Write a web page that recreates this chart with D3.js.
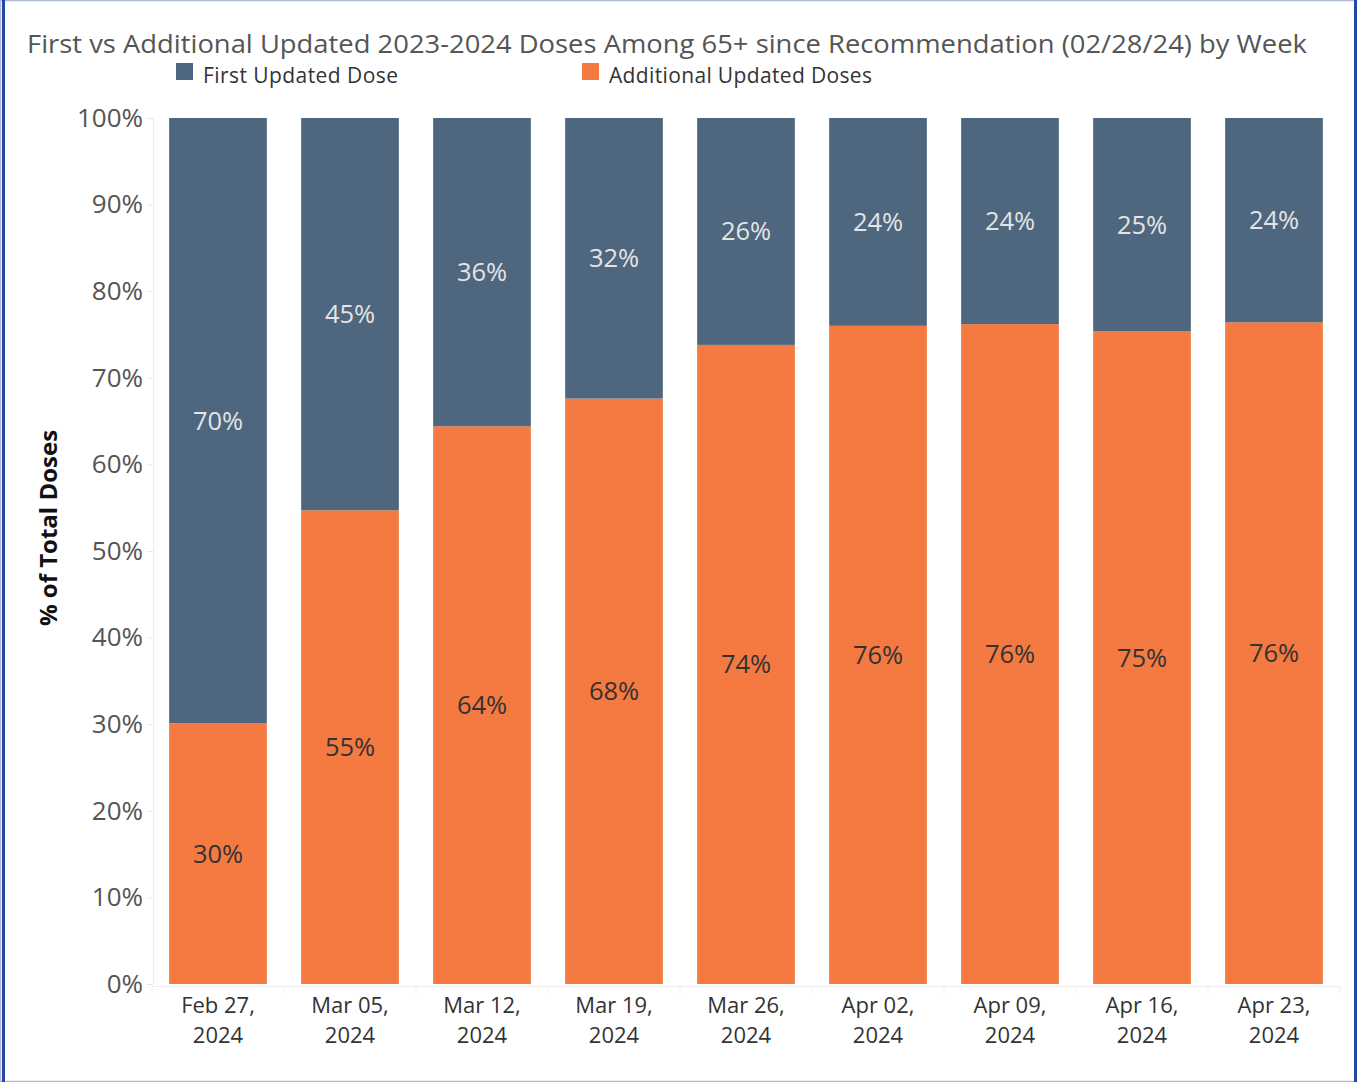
<!DOCTYPE html>
<html>
<head>
<meta charset="utf-8">
<script src="https://cdn.jsdelivr.net/npm/d3@7"></script>
<style>
  body { margin: 0; background: #fff; }
  svg { display: block; font-family: "Open Sans", sans-serif; }
</style>
</head>
<body>
<div id="chart"></div>
<script>
const weeks = ["Feb 27, 2024", "Mar 05, 2024", "Mar 12, 2024", "Mar 19, 2024", "Mar 26, 2024",
  "Apr 02, 2024", "Apr 09, 2024", "Apr 16, 2024", "Apr 23, 2024"];
// % of total doses per week
const additionalDoses = [30.1, 54.7, 64.4, 67.6, 73.8, 76.0, 76.2, 75.4, 76.4];
const firstDose = [69.9, 45.3, 35.6, 32.4, 26.2, 24.0, 23.8, 24.6, 23.6];
const yTicks = [0, 10, 20, 30, 40, 50, 60, 70, 80, 90, 100];

const w = 1357;
const h = 1082;
const blue = "#4e667e";
const orange = "#f47a42";

const svg = d3.select("#chart").append("svg").attr("width", w).attr("height", h);

// marco
svg.append("rect").attr("x", 0.5).attr("y", 0.5).attr("width", w - 1).attr("height", h - 1)
  .attr("fill", "none").attr("stroke", "#aebbd8").attr("stroke-width", 1.5);
svg.append("rect").attr("x", 2).attr("y", 0).attr("width", 3).attr("height", h).attr("fill", "#2347a3");
svg.append("rect").attr("x", w - 3).attr("y", 0).attr("width", 3).attr("height", h).attr("fill", "#2347a3");

// Escalas
const xScale = d3.scaleBand().domain(weeks).range([152, 1340]).paddingInner(0.26).paddingOuter(0.13);
const yScale = d3.scaleLinear().domain([0, 100]).range([984, 118]);

// Titulo
svg.append("text").attr("x", 27).attr("y", 53).attr("font-size", 25.5).attr("fill", "#555")
  .attr("textLength", 1280).attr("lengthAdjust", "spacingAndGlyphs")
  .text("First vs Additional Updated 2023-2024 Doses Among 65+ since Recommendation (02/28/24) by Week");

// Leyenda
const legend = [["First Updated Dose", blue, 176], ["Additional Updated Doses", orange, 582]];
legend.forEach(([label, color, x]) => {
  svg.append("rect").attr("x", x).attr("y", 63).attr("width", 17).attr("height", 17).attr("fill", color);
  svg.append("text").attr("x", x + 27).attr("y", 83).attr("font-size", 21).attr("fill", "#333")
    .attr("textLength", x === 176 ? 195 : 263).text(label);
});

// Ejes
const yAxis = d3.axisLeft(yScale).tickValues(yTicks).tickFormat((d) => d + "%").tickSize(6).tickPadding(4);
const gy = svg.append("g").attr("transform", "translate(153,0)").call(yAxis);
gy.select(".domain").attr("stroke", "#eee");
gy.selectAll(".tick line").attr("stroke", "#e6e6e6");
gy.selectAll(".tick text").attr("font-size", 26).attr("fill", "#555").attr("font-family", "Open Sans");

const gx = svg.append("g");
gx.append("line").attr("x1", 152).attr("x2", 1340).attr("y1", 986.5).attr("y2", 986.5).attr("stroke", "#eee");
weeks.forEach((d, i) => {
  const sx = xScale(d) - xScale.step() * xScale.paddingInner() / 2;
  gx.append("line").attr("x1", sx).attr("x2", sx).attr("y1", 986).attr("y2", 993).attr("stroke", "#eee");
});
gx.append("line").attr("x1", 1340).attr("x2", 1340).attr("y1", 986).attr("y2", 993).attr("stroke", "#eee");

const xLabels = gx.selectAll("text.xl").data(weeks).enter().append("text")
  .attr("class", "xl")
  .attr("text-anchor", "middle")
  .attr("font-size", 22)
  .attr("fill", "#333")
  .attr("transform", (d) => `translate(${xScale(d) + xScale.bandwidth() / 2},0)`);
xLabels.append("tspan").attr("x", 0).attr("y", 1013).text((d) => d.split(" ").slice(0, 2).join(" "));
xLabels.append("tspan").attr("x", 0).attr("y", 1043).text((d) => d.split(" ")[2]);

svg.append("text")
  .attr("transform", "translate(57,528) rotate(-90)")
  .attr("text-anchor", "middle")
  .attr("font-size", 24)
  .attr("font-weight", "bold")
  .attr("fill", "#111")
  .text("% of Total Doses");

// Barras
const rows = weeks.map((d, i) => ({ week: d, additional: additionalDoses[i], first: firstDose[i] }));
const series = d3.stack().keys(["additional", "first"])(rows);
const colors = { additional: orange, first: blue };
const labelColors = { additional: "#333", first: "#e4e4e4" };

series.forEach((s) => {
  const g = svg.append("g");
  g.selectAll("rect").data(s).enter().append("rect")
    .attr("x", (d) => xScale(d.data.week))
    .attr("y", (d) => yScale(d[1]))
    .attr("width", xScale.bandwidth())
    .attr("height", (d) => yScale(d[0]) - yScale(d[1]))
    .attr("fill", colors[s.key]);
  g.selectAll("text").data(s).enter().append("text")
    .attr("x", (d) => xScale(d.data.week) + xScale.bandwidth() / 2)
    .attr("y", (d) => (yScale(d[0]) + yScale(d[1])) / 2 + 9)
    .attr("text-anchor", "middle")
    .attr("font-size", 25.5)
    .attr("fill", labelColors[s.key])
    .text((d) => Math.round(d.data[s.key]) + "%");
});
</script>
</body>
</html>
